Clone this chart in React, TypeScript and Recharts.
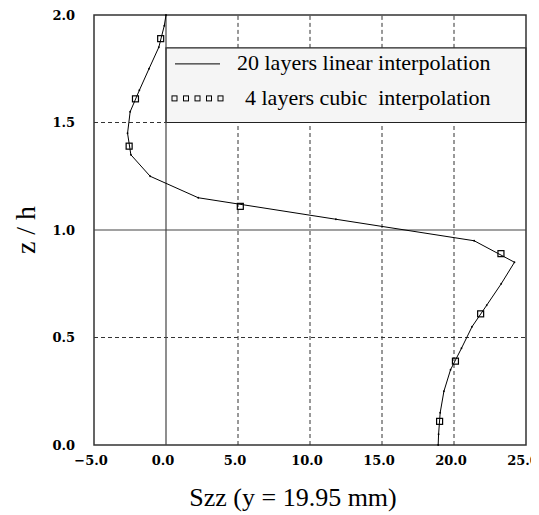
import { ScatterChart, Scatter, XAxis, YAxis, ReferenceLine, ReferenceArea } from "recharts";

// 20 layers, linear interpolation (z/h from top to bottom)
const linearZ = [2.0, 1.95, 1.85, 1.75, 1.65, 1.55, 1.45, 1.35, 1.25, 1.15, 1.05, 0.95, 0.85, 0.75, 0.65, 0.55, 0.45, 0.35, 0.25, 0.15, 0.05, 0.0];
const linearS = [0.0, -0.12, -0.5, -1.18, -1.85, -2.49, -2.67, -2.44, -1.1, 2.24, 11.8, 21.4, 24.2, 23.28, 22.27, 21.25, 20.52, 19.76, 19.3, 19.04, 18.93, 18.9];

// 4 layers, cubic interpolation
const cubicZ = [1.89, 1.61, 1.39, 1.11, 0.89, 0.61, 0.39, 0.11];
const cubicS = [-0.37, -2.12, -2.56, 5.16, 23.26, 21.85, 20.1, 19.0];

const xTicks = [-5, 0, 5, 10, 15, 20, 25];
const zTicks = [0, 0.5, 1.0, 1.5, 2.0];
const dashedX = [5, 10, 15, 20];

const legendLabels = ["20 layers linear interpolation", "4 layers cubic  interpolation"];
const legendZTop = 1.847;

const linearData = linearZ.map((z, i) => ({ s: linearS[i], z }));
const cubicData = cubicZ.map((z, i) => ({ s: cubicS[i], z }));

const xTickStyle = { fontFamily: "DejaVu Serif", fontWeight: "bold", fontSize: 13, fill: "#000", dx: -3 };
const yTickStyle = { fontFamily: "DejaVu Serif", fontWeight: "bold", fontSize: 13, fill: "#000" };
const titleFont = "Liberation Serif";
const gridColor = "#333";

const fmt = (v: number) => (v < 0 ? "\u2212" : "") + Math.abs(v).toFixed(1);

const NodeDot = (props: any) => <circle cx={props.cx} cy={props.cy} r={0.9} fill="#000" />;

const SquareMark = (props: any) => (
  <rect x={props.cx - 3} y={props.cy - 3} width={6} height={6} fill="none" stroke="#000" strokeWidth={1.2} />
);

const LegendContent = (props: any) => {
  const { x, y } = props.viewBox;
  const squares = [0, 1, 2, 3, 4];
  return (
    <g>
      <line x1={x + 9} x2={x + 54} y1={y + 16} y2={y + 16} stroke="#000" strokeWidth={1} />
      <text x={x + 71} y={y + 22} fontFamily={titleFont} fontSize={22} fill="#000">
        {legendLabels[0]}
      </text>
      {squares.map((k) => (
        <rect key={k} x={x + 6 + k * 11.5} y={y + 48} width={5} height={5} fill="none" stroke="#000" strokeWidth={1} />
      ))}
      <text x={x + 79} y={y + 57} fontFamily={titleFont} fontSize={22} fill="#000" style={{ whiteSpace: "pre" }}>
        {legendLabels[1]}
      </text>
    </g>
  );
};

const YTitle = (props: any) => {
  const { x, y, height } = props.viewBox;
  const cx = x + 17;
  const cy = y + height / 2;
  return (
    <text x={cx} y={cy} transform={`rotate(-90, ${cx}, ${cy})`} textAnchor="middle" dominantBaseline="central"
      fontFamily={titleFont} fontSize={28} fill="#000">
      z / h
    </text>
  );
};

const XTitle = (props: any) => {
  const { x, y, width } = props.viewBox;
  return (
    <text x={x + width / 2 - 17} y={y + 52} textAnchor="middle" dominantBaseline="central"
      fontFamily={titleFont} fontSize={26} fill="#000">
      Szz (y = 19.95 mm)
    </text>
  );
};

export default function App() {
  return (
    <ScatterChart width={531} height={507} margin={{ top: 7, right: 13, left: 0, bottom: 0 }}>
      <XAxis
        type="number"
        dataKey="s"
        domain={[-5, 25]}
        ticks={xTicks}
        tickFormatter={fmt}
        tick={xTickStyle}
        tickLine={false}
        tickSize={0}
        tickMargin={11}
        axisLine={false}
        height={70}
        interval={0}
        label={XTitle}
      />
      <YAxis
        type="number"
        dataKey="z"
        domain={[0, 2]}
        ticks={zTicks}
        tickFormatter={fmt}
        tick={yTickStyle}
        tickLine={false}
        tickSize={0}
        tickMargin={19}
        axisLine={false}
        width={86}
        interval={0}
        label={YTitle}
      />

      {dashedX.map((v) => (
        <ReferenceLine key={`a${v}`} segment={[{ x: v, y: 0 }, { x: v, y: 1.5 }]} stroke={gridColor} strokeDasharray="4 3" />
      ))}
      {dashedX.map((v) => (
        <ReferenceLine key={`b${v}`} segment={[{ x: v, y: legendZTop }, { x: v, y: 2 }]} stroke={gridColor} strokeDasharray="4 3" />
      ))}
      <ReferenceLine y={0.5} stroke={gridColor} strokeDasharray="4 3" />
      <ReferenceLine segment={[{ x: -5, y: 1.5 }, { x: 0, y: 1.5 }]} stroke={gridColor} strokeDasharray="4 3" />
      <ReferenceLine x={0} stroke="#444" strokeWidth={1.2} />
      <ReferenceLine y={1.0} stroke="#444" strokeWidth={1.2} />

      <ReferenceArea x1={0} x2={25} y1={1.5} y2={legendZTop} fill="#f5f5f5" fillOpacity={1} stroke="#222" strokeWidth={1.2}
        label={LegendContent} />
      <ReferenceArea x1={-5} x2={25} y1={0} y2={2} fill="none" stroke="#333" strokeWidth={1.5} />

      <Scatter data={linearData} line={{ stroke: "#000", strokeWidth: 1 }} shape={NodeDot} isAnimationActive={false} />
      <Scatter data={cubicData} shape={SquareMark} isAnimationActive={false} />
    </ScatterChart>
  );
}
